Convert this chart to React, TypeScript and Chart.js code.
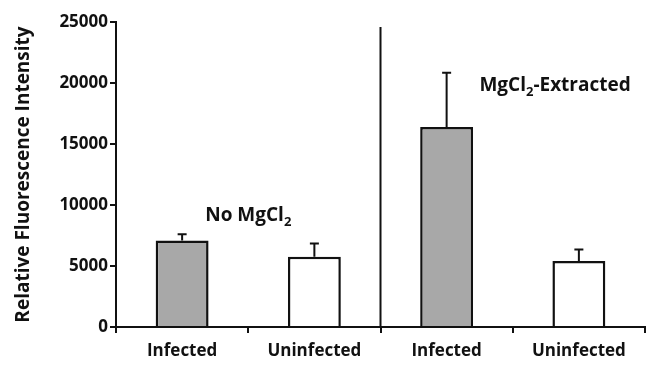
import React, { useEffect, useRef } from "react";
import { Chart, registerables } from "chart.js";

Chart.register(...registerables);

const categories = ["Infected", "Uninfected", "Infected", "Uninfected"];
const values = [7100, 5750, 16400, 5400];
const errors = [500, 1100, 4450, 950];
const barColors = ["#a8a8a8", "#ffffff", "#a8a8a8", "#ffffff"];
const yTicks = [0, 5000, 10000, 15000, 20000, 25000];
const annotations = [
  { main: "No MgCl", sub: "2", rest: "", xIndex: 0.5, y: 9100 },
  { main: "MgCl", sub: "2", rest: "-Extracted", xIndex: 2.82, y: 19750 },
];
const dividerTop = 24600;

const FONT = "'Open Sans', 'DejaVu Sans', sans-serif";

const overlayPlugin = {
  id: "overlay",
  afterDatasetsDraw(chart: any) {
    const { ctx, scales } = chart;
    const xs = scales.x;
    const ys = scales.y;
    ctx.save();
    // error bars
    ctx.strokeStyle = "#111";
    ctx.lineWidth = 2;
    values.forEach((v, i) => {
      const x = xs.getPixelForValue(i);
      const yTop = ys.getPixelForValue(v);
      const yErr = ys.getPixelForValue(v + errors[i]);
      ctx.beginPath();
      ctx.moveTo(x, yTop);
      ctx.lineTo(x, yErr);
      ctx.moveTo(x - 4.5, yErr);
      ctx.lineTo(x + 4.5, yErr);
      ctx.stroke();
    });
    // divider
    const xd = (xs.getPixelForValue(1) + xs.getPixelForValue(2)) / 2;
    ctx.lineWidth = 2;
    ctx.beginPath();
    ctx.moveTo(xd, ys.getPixelForValue(dividerTop));
    ctx.lineTo(xd, ys.getPixelForValue(0));
    ctx.stroke();
    // annotations
    ctx.fillStyle = "#111";
    ctx.textBaseline = "middle";
    annotations.forEach((a) => {
      const big = `bold 19px ${FONT}`;
      const small = `bold 13px ${FONT}`;
      ctx.font = big;
      const w1 = ctx.measureText(a.main).width;
      const w3 = ctx.measureText(a.rest).width;
      ctx.font = small;
      const w2 = ctx.measureText(a.sub).width;
      const total = w1 + w2 + w3;
      const cx = xs.getPixelForValue(0) + (xs.getPixelForValue(1) - xs.getPixelForValue(0)) * a.xIndex;
      const cy = ys.getPixelForValue(a.y);
      let x = cx - total / 2;
      ctx.textAlign = "left";
      ctx.font = big;
      ctx.fillText(a.main, x, cy);
      x += w1;
      ctx.font = small;
      ctx.fillText(a.sub, x, cy + 6);
      x += w2;
      ctx.font = big;
      ctx.fillText(a.rest, x, cy);
    });
    ctx.restore();
  },
};

export default function App() {
  const ref = useRef<HTMLCanvasElement>(null);
  useEffect(() => {
    document.body.style.margin = "0";
    const chart = new Chart(ref.current!, {
      type: "bar",
      data: {
        labels: categories,
        datasets: [
          {
            data: values,
            backgroundColor: barColors,
            borderColor: "#111",
            borderWidth: 2.5,
            borderSkipped: "bottom",
            categoryPercentage: 1,
            barPercentage: 0.4,
          },
        ],
      },
      options: {
        animation: false,
        responsive: false,
        maintainAspectRatio: false,
        layout: { padding: { left: 0, right: 5, top: 22, bottom: 0 } },
        plugins: { legend: { display: false }, tooltip: { enabled: false } },
        scales: {
          x: {
            offset: true,
            grid: {
              offset: true,
              drawOnChartArea: false,
              drawTicks: true,
              tickLength: 6,
              color: "#111",
              lineWidth: 2,
            },
            border: { color: "#111", width: 2 },
            ticks: {
              color: "#111",
              font: { family: FONT, size: 17, weight: "bold" },
              padding: 8,
            },
            afterFit(scale: any) {
              scale.height = 38;
            },
          },
          y: {
            min: 0,
            max: 25000,
            afterBuildTicks(scale: any) {
              scale.ticks = yTicks.map((v) => ({ value: v }));
            },
            grid: {
              drawOnChartArea: false,
              drawTicks: true,
              tickLength: 6,
              color: "#111",
              lineWidth: 2,
            },
            border: { color: "#111", width: 2 },
            ticks: {
              color: "#111",
              font: { family: FONT, size: 17, weight: "bold" },
              padding: 2,
              callback: (v: any) => String(v),
            },
            title: {
              display: true,
              text: "Relative Fluorescence Intensity",
              color: "#111",
              font: { family: FONT, size: 19, weight: "bold" },
              padding: { top: 12, bottom: 0 },
            },
            afterFit(scale: any) {
              scale.width = 116;
            },
          },
        },
      },
      plugins: [overlayPlugin],
    });
    return () => chart.destroy();
  }, []);
  return (
    <div style={{ width: 650, height: 365 }}>
      <canvas ref={ref} width={650} height={365} />
    </div>
  );
}
